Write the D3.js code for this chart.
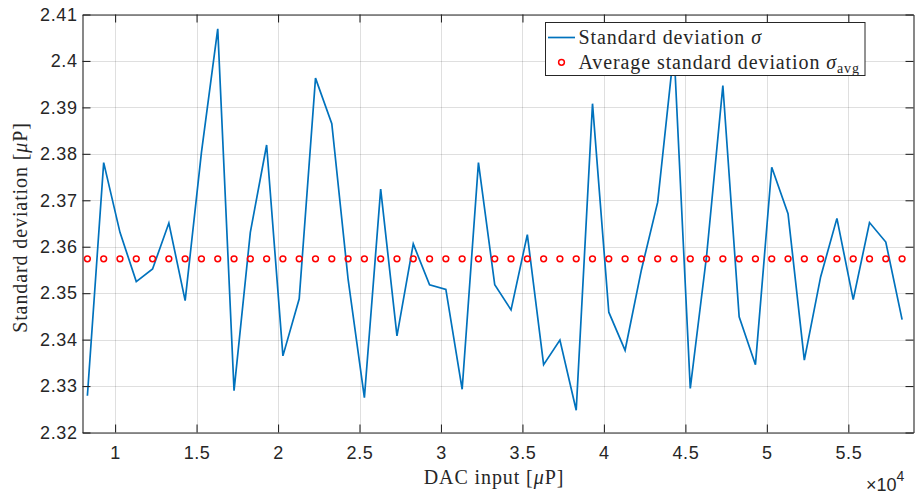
<!DOCTYPE html>
<html>
<head>
<meta charset="utf-8">
<script src="https://cdn.jsdelivr.net/npm/d3@7"></script>
<style>
  html, body { margin: 0; padding: 0; background: #fff; }
  svg { display: block; }
  .tick text { font-family: "Liberation Sans", Arial, Helvetica, sans-serif; font-size: 18px; fill: #262626; letter-spacing: 0.6px; }
  .serif { font-family: "Liberation Serif", "Times New Roman", serif; fill: #262626; letter-spacing: 0.9px; }
</style>
</head>
<body>
<svg id="chart" width="915" height="498"></svg>
<script>
// DAC input codes at which the noise was measured
const dacInput = [
  8300, 9300, 10300, 11300, 12300, 13300, 14300, 15300, 16300, 17300,
  18300, 19300, 20300, 21300, 22300, 23300, 24300, 25300, 26300, 27300,
  28300, 29300, 30300, 31300, 32300, 33300, 34300, 35300, 36300, 37300,
  38300, 39300, 40300, 41300, 42300, 43300, 44300, 45300, 46300, 47300,
  48300, 49300, 50300, 51300, 52300, 53300, 54300, 55300, 56300, 57300,
  58300
];
// Standard deviation of the output at each DAC input [µP]
const sigma = [
  2.3279, 2.3781, 2.3631, 2.3525, 2.3552, 2.3651, 2.3484, 2.3803, 2.4069, 2.3290,
  2.3631, 2.3819, 2.3365, 2.3488, 2.3963, 2.3865, 2.3530, 2.3275, 2.3724, 2.3408,
  2.3606, 2.3518, 2.3508, 2.3293, 2.3781, 2.3518, 2.3464, 2.3626, 2.3346, 2.3399,
  2.3248, 2.3908, 2.3459, 2.3377, 2.3550, 2.3696, 2.4025, 2.3295, 2.3580, 2.3947,
  2.3449, 2.3346, 2.3771, 2.3671, 2.3356, 2.3535, 2.3661, 2.3486, 2.3652, 2.3610,
  2.3443
];
// Average standard deviation over all inputs [µP]
const sigmaAvg = 2.3574;

const xTicks = [10000, 15000, 20000, 25000, 30000, 35000, 40000, 45000, 50000, 55000];
const xTickLabels = ["1", "1.5", "2", "2.5", "3", "3.5", "4", "4.5", "5", "5.5"];
const yTicks = [2.32, 2.33, 2.34, 2.35, 2.36, 2.37, 2.38, 2.39, 2.40, 2.41];
const yTickLabels = ["2.32", "2.33", "2.34", "2.35", "2.36", "2.37", "2.38", "2.39", "2.4", "2.41"];

const svg = d3.select("#chart");
const pLeft = 82.5, pRight = 913.5, pTop = 14.5, pBottom = 432.5;
const axisColor = "#262626";

const x = d3.scaleLinear().domain([8000, 59000]).range([pLeft, pRight]);
const y = d3.scaleLinear().domain([2.32, 2.41]).range([pBottom, pTop]);

// grid
const grid = svg.append("g").attr("stroke", axisColor).attr("stroke-opacity", 0.15).attr("stroke-width", 1);
grid.selectAll("line.gx").data(xTicks).join("line")
  .attr("x1", d => Math.round(x(d)) + 0.5).attr("x2", d => Math.round(x(d)) + 0.5)
  .attr("y1", pTop).attr("y2", pBottom);
grid.selectAll("line.gy").data(yTicks).join("line")
  .attr("y1", d => Math.round(y(d)) + 0.5).attr("y2", d => Math.round(y(d)) + 0.5)
  .attr("x1", pLeft).attr("x2", pRight);

// data
const plot = svg.append("g");
plot.append("path")
  .datum(d3.zip(dacInput, sigma))
  .attr("fill", "none")
  .attr("stroke", "#0072BD")
  .attr("stroke-width", 1.7)
  .attr("stroke-linejoin", "miter")
  .attr("d", d3.line().x(d => x(d[0])).y(d => y(d[1])));

plot.selectAll("circle.avg").data(dacInput).join("circle")
  .attr("class", "avg")
  .attr("cx", d => x(d))
  .attr("cy", y(sigmaAvg))
  .attr("r", 2.9)
  .attr("fill", "none")
  .attr("stroke", "#FF0000")
  .attr("stroke-width", 1.5);

// axes (ticks pointing inward on all four sides)
function styleAxis(g) {
  g.select(".domain").attr("stroke", axisColor).attr("stroke-width", 1.1);
  g.selectAll(".tick line").attr("stroke", axisColor).attr("stroke-width", 1.1);
}
svg.append("g").attr("transform", `translate(0,${pBottom})`)
  .call(d3.axisBottom(x).tickValues(xTicks).tickFormat((d, i) => xTickLabels[i]).tickSize(-8).tickSizeOuter(0).tickPadding(14))
  .call(styleAxis);
svg.append("g").attr("transform", `translate(0,${pTop})`)
  .call(d3.axisTop(x).tickValues(xTicks).tickFormat("").tickSize(-8).tickSizeOuter(0))
  .call(styleAxis);
svg.append("g").attr("transform", `translate(${pLeft},0)`)
  .call(d3.axisLeft(y).tickValues(yTicks).tickFormat((d, i) => yTickLabels[i]).tickSize(-8).tickSizeOuter(0).tickPadding(5))
  .call(styleAxis);
svg.append("g").attr("transform", `translate(${pRight},0)`)
  .call(d3.axisRight(y).tickValues(yTicks).tickFormat("").tickSize(-8).tickSizeOuter(0))
  .call(styleAxis);
svg.selectAll(".tick text").attr("fill", axisColor);

// exponent marker
const expo = svg.append("text")
  .attr("x", 866).attr("y", 491)
  .attr("font-family", "Liberation Sans, Arial, sans-serif")
  .attr("font-size", 18).attr("fill", axisColor);
expo.append("tspan").text("\u00d710");
expo.append("tspan").attr("font-size", 14).attr("dy", -10).text("4");

// axis titles
svg.append("text").attr("class", "serif")
  .attr("x", 494).attr("y", 484)
  .attr("text-anchor", "middle").attr("font-size", 20)
  .html('DAC input [<tspan font-style="italic">\u03bc</tspan>P]');
svg.append("text").attr("class", "serif")
  .attr("transform", `translate(27,${(pTop + pBottom) / 2 + 4}) rotate(-90)`)
  .attr("text-anchor", "middle").attr("font-size", 20)
  .html('Standard deviation [<tspan font-style="italic">\u03bc</tspan>P]');

// legend
const lg = svg.append("g");
lg.append("rect")
  .attr("x", 545.5).attr("y", 22.5).attr("width", 319.5).attr("height", 53)
  .attr("fill", "#fff").attr("stroke", axisColor).attr("stroke-width", 1);
lg.append("line")
  .attr("x1", 548).attr("x2", 575).attr("y1", 37.5).attr("y2", 37.5)
  .attr("stroke", "#0072BD").attr("stroke-width", 1.7);
lg.append("circle")
  .attr("cx", 561.5).attr("cy", 62.3).attr("r", 2.9)
  .attr("fill", "none").attr("stroke", "#FF0000").attr("stroke-width", 1.5);
lg.append("text").attr("class", "serif")
  .attr("x", 578.5).attr("y", 43.5).attr("font-size", 20)
  .html('Standard deviation <tspan font-style="italic">\u03c3</tspan>');
lg.append("text").attr("class", "serif")
  .attr("x", 578.5).attr("y", 68.5).attr("font-size", 20)
  .html('Average standard deviation <tspan font-style="italic">\u03c3</tspan><tspan font-size="14" dy="4">avg</tspan>');
</script>
</body>
</html>
